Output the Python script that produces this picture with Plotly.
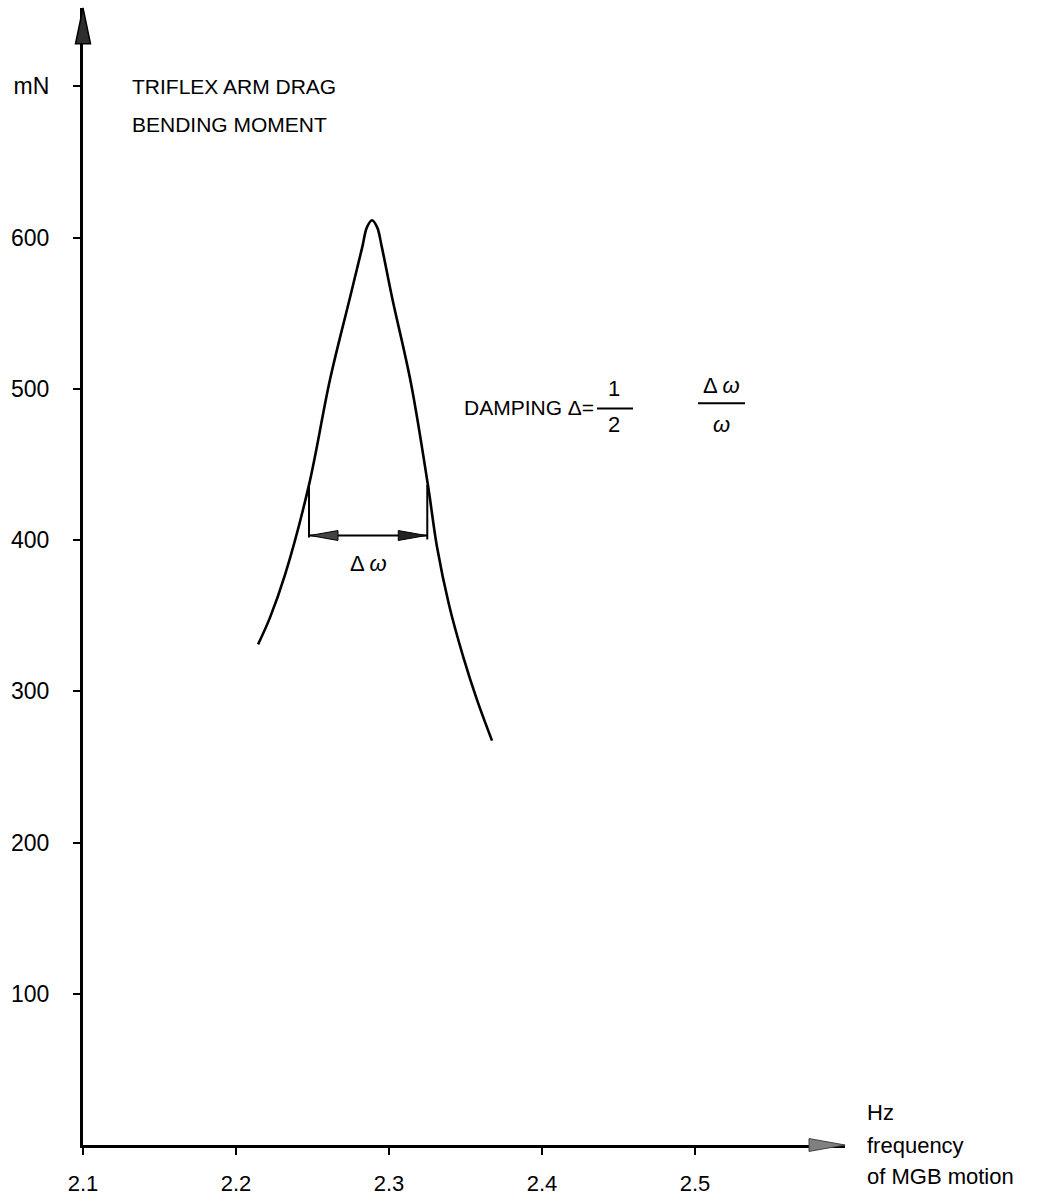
import plotly.graph_objects as go

# ---- data ----
freq = [2.2144, 2.2222, 2.2320, 2.2477, 2.2614, 2.2745, 2.2824, 2.2856,
        2.2889,
        2.2922, 2.2954, 2.3020, 2.3144, 2.3255, 2.3314, 2.3392, 2.3484, 2.3575, 2.3673]
moment = [331.0, 348.7, 376.9, 436.5, 506.0, 560.4, 593.2, 606.9,
          611.5,
          606.9, 593.2, 560.4, 503.4, 435.9, 395.2, 357.2, 323.1, 294.3, 267.4]

x_tickvals = [2.1, 2.2, 2.3, 2.4, 2.5]
x_ticktext = ["2.1", "2.2", "2.3", "2.4", "2.5"]
y_tickvals = [100, 200, 300, 400, 500, 600, 700]
y_ticktext = ["100", "200", "300", "400", "500", "600", "mN"]

# half-power band (delta omega)
dw_left = 2.2477
dw_right = 2.3250
dw_level = 403.0
dw_top = 436.5

# ---- layout geometry ----
W, H = 1049, 1204
ML, MR, MT, MB = 83, 204, 8, 49
XMIN, XMAX = 2.1, 2.598
YMIN, YMAX = 0, 751.8
pw = W - ML - MR
ph = H - MT - MB
px_x = pw / (XMAX - XMIN)   # pixels per x unit
px_y = ph / (YMAX - YMIN)   # pixels per y unit

def to_px(x):
    return (x - XMIN) / (XMAX - XMIN)

def to_py(y):
    return (y - YMIN) / (YMAX - YMIN)

FONT = "Liberation Sans, Arial, sans-serif"
fig = go.Figure()

fig.add_trace(go.Scatter(
    x=freq, y=moment, mode="lines",
    line=dict(color="black", width=2.6, shape="spline", smoothing=1.0),
    hoverinfo="skip", showlegend=False))

shapes = []
# extension lines and delta-omega dimension line
shapes.append(dict(type="line", xref="x", yref="y", x0=dw_left, x1=dw_left,
                   y0=dw_top, y1=dw_level - 2 / px_y, line=dict(color="black", width=2)))
shapes.append(dict(type="line", xref="x", yref="y", x0=dw_right, x1=dw_right,
                   y0=dw_top, y1=dw_level - 4 / px_y, line=dict(color="black", width=2)))
shapes.append(dict(type="line", xref="x", yref="y", x0=dw_left, x1=dw_right,
                   y0=dw_level, y1=dw_level, line=dict(color="black", width=2)))

def tri(tipx, tipy, dirx, diry, length, half):
    # triangle in paper coords; tip given in data units, length/half in pixels
    tx, ty = to_px(tipx), to_py(tipy)
    if dirx != 0:
        bx = tx - dirx * length / pw
        return (f"M {tx},{ty} L {bx},{ty + half / ph} "
                f"L {bx},{ty - half / ph} Z")
    by = ty - diry * length / ph
    return (f"M {tx},{ty} L {tx + half / pw},{by} "
            f"L {tx - half / pw},{by} Z")

arrow_fill = "#2e2e2e"
# delta omega arrowheads
shapes.append(dict(type="path", xref="paper", yref="paper",
                   path=tri(dw_left + 1 / px_x, dw_level, -1, 0, 28, 5),
                   fillcolor="#444444", line=dict(color="black", width=1)))
shapes.append(dict(type="path", xref="paper", yref="paper",
                   path=tri(dw_right - 1 / px_x, dw_level, 1, 0, 28, 5),
                   fillcolor="#222222", line=dict(color="black", width=1)))
# axis arrowheads
shapes.append(dict(type="path", xref="paper", yref="paper",
                   path=tri(XMIN, YMAX, 0, 1, 36, 7.5),
                   fillcolor=arrow_fill, line=dict(color="black", width=1.5)))
shapes.append(dict(type="path", xref="paper", yref="paper",
                   path=tri(XMAX, 0, 1, 0, 36, 6.5),
                   fillcolor="#808080", line=dict(color="#444444", width=1)))

# fraction bars
shapes.append(dict(type="line", xref="x", yref="y",
                   x0=XMIN + (597 - ML) / px_x, x1=XMIN + (633 - ML) / px_x,
                   y0=487.0, y1=487.0, line=dict(color="black", width=2)))
shapes.append(dict(type="line", xref="x", yref="y",
                   x0=XMIN + (698 - ML) / px_x, x1=XMIN + (745 - ML) / px_x,
                   y0=490.5, y1=490.5, line=dict(color="black", width=2)))

fs = 22
ann = []
def txt(x, y, s, xanchor="left", size=fs, xref="x", yref="y"):
    ann.append(dict(x=x, y=y, xref=xref, yref=yref, text=s, showarrow=False,
                    xanchor=xanchor, yanchor="middle",
                    font=dict(family=FONT, size=size, color="black")))

txt(2.1307, 700.0, "TRIFLEX ARM DRAG", size=21)
txt(2.1307, 675.0, "BENDING MOMENT", size=21)
txt(2.2863, 384.7, "Δ <i>ω</i>", xanchor="center")
txt(2.3477, 487.6, "DAMPING Δ=", size=21)
txt(2.4470, 500.5, "1", xanchor="center")
txt(2.4470, 476.5, "2", xanchor="center")
txt(2.5170, 502.0, "Δ <i>ω</i>", xanchor="center")
txt(2.5170, 476.5, "<i>ω</i>", xanchor="center")
txt((865 - ML) / pw, 21.6 / YMAX, "Hz", xref="paper", yref="paper")
txt((865 - ML) / pw, 0.0, "frequency", xref="paper", yref="paper")
txt((865 - ML) / pw, -32 / ph, "of MGB motion", xref="paper", yref="paper")

fig.update_layout(
    width=W, height=H,
    margin=dict(l=ML, r=MR, t=MT, b=MB),
    paper_bgcolor="white", plot_bgcolor="white",
    shapes=shapes, annotations=ann,
    font=dict(family=FONT, size=fs, color="black"),
    xaxis=dict(range=[XMIN, XMAX], tickvals=x_tickvals, ticktext=x_ticktext,
               showgrid=False, zeroline=False, showline=True, linecolor="black",
               linewidth=3, ticks="outside", ticklen=7, tickwidth=2, tickcolor="black",
               ticklabelstandoff=10, tickfont=dict(family=FONT, size=22, color="black")),
    yaxis=dict(range=[YMIN, YMAX], tickvals=y_tickvals, ticktext=y_ticktext,
               showgrid=False, zeroline=False, showline=True, linecolor="black",
               linewidth=3, ticks="outside", ticklen=7, tickwidth=2, tickcolor="black",
               ticklabelstandoff=19, tickfont=dict(family=FONT, size=23, color="black")),
)

fig.write_html("out.html")
